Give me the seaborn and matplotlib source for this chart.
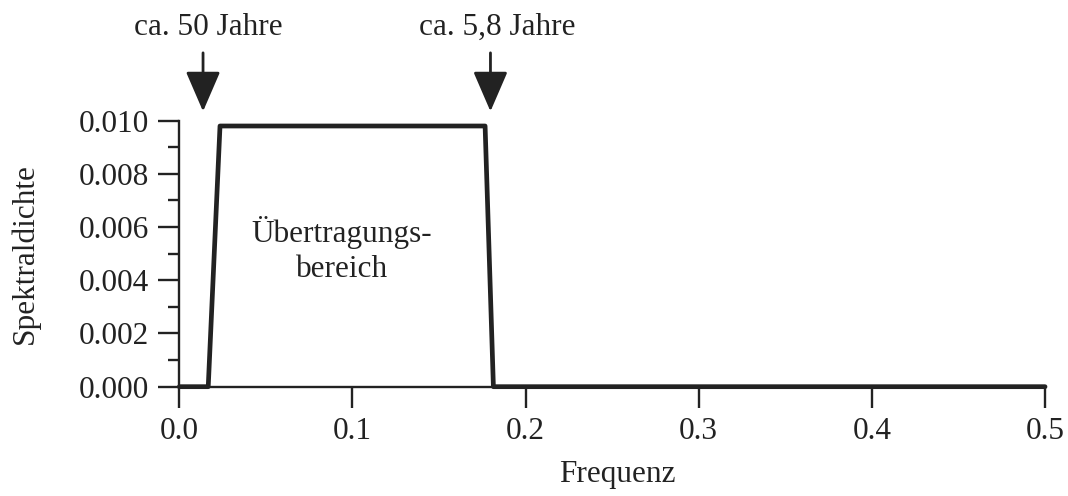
import matplotlib
matplotlib.use("Agg")
import matplotlib.pyplot as plt
import seaborn as sns
import pandas as pd
from matplotlib.ticker import MultipleLocator

sns.set_theme(style="ticks")
plt.rcParams['font.family'] = ['Liberation Serif', 'DejaVu Serif']

# Data
frequenz = [0.0, 0.0167, 0.0235, 0.1766, 0.1814, 0.5]
spektraldichte = [0.0, 0.0, 0.0098, 0.0098, 0.0, 0.0]
arrow_x = [0.0137, 0.1797]
arrow_labels = ["ca. 50 Jahre", "ca. 5,8 Jahre"]
label_x = [0.0166, 0.1837]

df = pd.DataFrame({"Frequenz": frequenz, "Spektraldichte": spektraldichte})

FS = 22.5
INK = "#222222"

fig = plt.figure(figsize=(10.68, 4.96), dpi=100)
ax = fig.add_axes([0.1679, 0.2204, 0.9785 - 0.1679, 0.7567 - 0.2204])

sns.lineplot(data=df, x="Frequenz", y="Spektraldichte", ax=ax, color=INK,
             linewidth=3.4, clip_on=False, zorder=5)

ax.set_xlim(0, 0.5)
ax.set_ylim(0, 0.010)
ax.set_xticks([0.0, 0.1, 0.2, 0.3, 0.4, 0.5])
ax.set_xticklabels(["0.0", "0.1", "0.2", "0.3", "0.4", "0.5"])
ax.set_yticks([0.0, 0.002, 0.004, 0.006, 0.008, 0.010])
ax.set_yticklabels(["0.000", "0.002", "0.004", "0.006", "0.008", "0.010"])
ax.yaxis.set_minor_locator(MultipleLocator(0.001))

for s in ["top", "right"]:
    ax.spines[s].set_visible(False)
for s in ["left", "bottom"]:
    ax.spines[s].set_linewidth(1.7)
    ax.spines[s].set_color(INK)

ax.tick_params(axis="both", which="major", length=15, width=1.7, color=INK,
               labelsize=FS, labelcolor=INK, pad=7)
ax.tick_params(axis="y", which="minor", length=8, width=1.7, color=INK)
ax.tick_params(axis="x", which="minor", length=0)

ax.set_xlabel("Frequenz", fontsize=FS, color=INK, va="center")
ax.set_ylabel("Spektraldichte", fontsize=FS, color=INK, va="center")
ax.xaxis.set_label_coords(0.5057, -0.332)
ax.yaxis.set_label_coords(-0.178, 0.5)

for xa, xl, lab in zip(arrow_x, label_x, arrow_labels):
    ax.annotate("", xy=(xa, 0.01035), xytext=(xa, 0.01255),
                xycoords="data", textcoords="data", annotation_clip=False,
                arrowprops=dict(arrowstyle="-|>,head_length=1.25,head_width=0.54",
                                color=INK, linewidth=2.0, mutation_scale=20,
                                shrinkA=0, shrinkB=0))
    ax.text(xl, 0.01350, lab, ha="center", va="center", fontsize=FS,
            color=INK, clip_on=False)

ax.text(0.094, 0.00514, "Übertragungs-\nbereich", ha="center", va="center",
        fontsize=FS, color=INK, linespacing=1.3)

fig.savefig("out.png", dpi=100, facecolor="white")
